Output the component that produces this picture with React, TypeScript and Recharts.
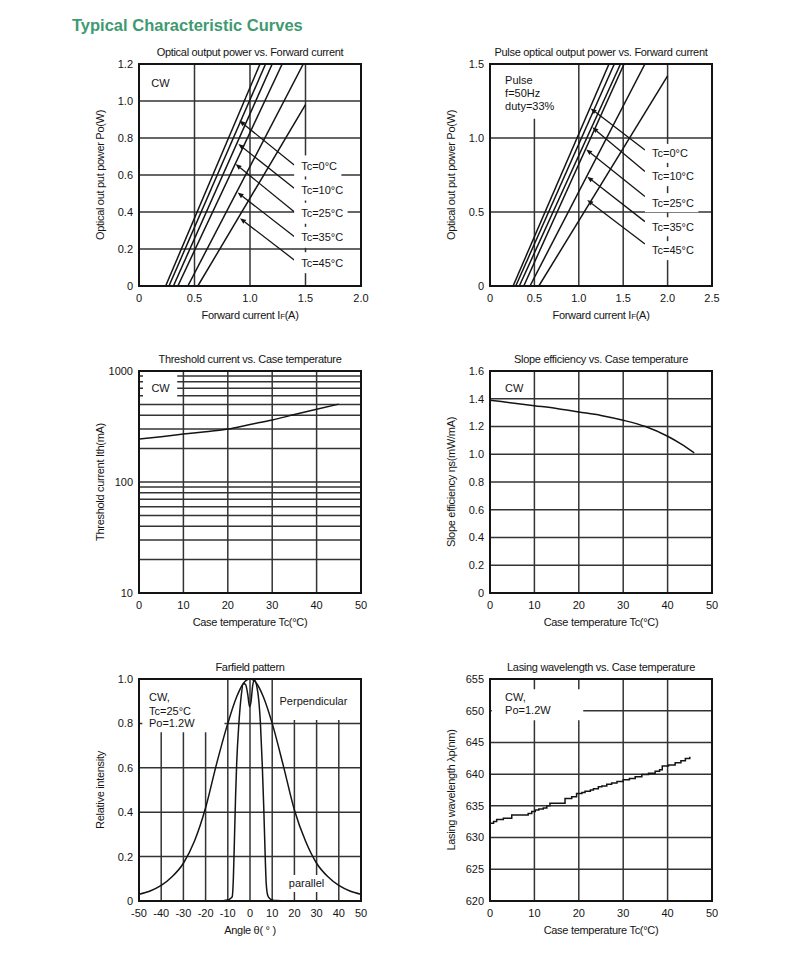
import React from 'react';
import {
  LineChart,
  Line,
  XAxis,
  YAxis,
  CartesianGrid,
  ReferenceLine,
  ReferenceDot,
  ReferenceArea,
} from 'recharts';

// ---------------- DATA ----------------
// Panel 1: CW optical output power vs forward current
const cwCurve1 = [{ x: 0.24, y: 0 }, { x: 1.09, y: 1.2 }];
const cwCurve2 = [{ x: 0.27, y: 0 }, { x: 1.14, y: 1.2 }];
const cwCurve3 = [{ x: 0.31, y: 0 }, { x: 1.2, y: 1.2 }];
const cwCurve4 = [{ x: 0.35, y: 0 }, { x: 1.29, y: 1.2 }];
const cwCurve5 = [{ x: 0.44, y: 0 }, { x: 1.48, y: 1.2 }];
const cwCurve6 = [{ x: 0.53, y: 0 }, { x: 1.5, y: 0.98 }];
const cwLabels = ['Tc=0°C', 'Tc=10°C', 'Tc=25°C', 'Tc=35°C', 'Tc=45°C'];
const cwLabelY = [0.649, 0.519, 0.393, 0.263, 0.126];
const cwPointerFrom = [
  { x: 1.398, y: 0.654 },
  { x: 1.398, y: 0.528 },
  { x: 1.398, y: 0.402 },
  { x: 1.398, y: 0.267 },
  { x: 1.398, y: 0.141 },
];
const cwPointerTo = [
  { x: 0.904, y: 0.894 },
  { x: 0.895, y: 0.768 },
  { x: 0.87, y: 0.659 },
  { x: 0.889, y: 0.505 },
  { x: 0.91, y: 0.366 },
];
const p1XTicks = [0, 0.5, 1.0, 1.5, 2.0];
const p1YTicks = [0, 0.2, 0.4, 0.6, 0.8, 1.0, 1.2];

// Panel 2: Pulse optical output power vs forward current
const pulseCurve1 = [{ x: 0.26, y: 0 }, { x: 1.34, y: 1.5 }];
const pulseCurve2 = [{ x: 0.29, y: 0 }, { x: 1.4, y: 1.5 }];
const pulseCurve3 = [{ x: 0.33, y: 0 }, { x: 1.47, y: 1.5 }];
const pulseCurve4 = [{ x: 0.38, y: 0 }, { x: 1.51, y: 1.5 }];
const pulseCurve5 = [{ x: 0.45, y: 0 }, { x: 1.745, y: 1.5 }];
const pulseCurve6 = [{ x: 0.55, y: 0 }, { x: 2.0, y: 1.42 }];
const pulseLabels = ['Tc=0°C', 'Tc=10°C', 'Tc=25°C', 'Tc=35°C', 'Tc=45°C'];
const pulseLabelY = [0.896, 0.739, 0.563, 0.4, 0.239];
const pulsePointerFrom = [
  { x: 1.745, y: 0.919 },
  { x: 1.745, y: 0.773 },
  { x: 1.745, y: 0.604 },
  { x: 1.745, y: 0.435 },
  { x: 1.745, y: 0.284 },
];
const pulsePointerTo = [
  { x: 1.133, y: 1.2 },
  { x: 1.152, y: 1.072 },
  { x: 1.084, y: 0.923 },
  { x: 1.095, y: 0.739 },
  { x: 1.095, y: 0.581 },
];
const pulseNote = ['Pulse', 'f=50Hz', 'duty=33%'];
const pulseNoteY = [1.392, 1.302, 1.212];
const p2XTicks = [0, 0.5, 1.0, 1.5, 2.0, 2.5];
const p2YTicks = [0, 0.5, 1.0, 1.5];

// Panel 3: Threshold current vs case temperature (log)
const thresholdData = [
  { x: 0, y: 244 },
  { x: 5, y: 256 },
  { x: 10, y: 270 },
  { x: 15, y: 284 },
  { x: 20, y: 300 },
  { x: 25, y: 330 },
  { x: 30, y: 362 },
  { x: 35, y: 405 },
  { x: 40, y: 452 },
  { x: 45, y: 503 },
];
const tempTicks = [0, 10, 20, 30, 40, 50];
const logTicks = [10, 20, 30, 40, 50, 60, 70, 80, 90, 100, 200, 300, 400, 500, 600, 700, 800, 900, 1000];
const logTickLabels = [10, 100, 1000];

// Panel 4: Slope efficiency vs case temperature
const slopeData = [
  { x: 0, y: 1.39 },
  { x: 5, y: 1.37 },
  { x: 10, y: 1.35 },
  { x: 15, y: 1.33 },
  { x: 20, y: 1.305 },
  { x: 25, y: 1.28 },
  { x: 30, y: 1.245 },
  { x: 35, y: 1.2 },
  { x: 40, y: 1.13 },
  { x: 43, y: 1.075 },
  { x: 46, y: 1.01 },
];
const p4YTicks = [0, 0.2, 0.4, 0.6, 0.8, 1.0, 1.2, 1.4, 1.6];

// Panel 5: Far field pattern
const perpendicularData = [
  { x: -50, y: 0.03 }, { x: -45, y: 0.045 }, { x: -40, y: 0.07 }, { x: -35, y: 0.11 },
  { x: -30, y: 0.17 }, { x: -25, y: 0.27 }, { x: -20, y: 0.42 }, { x: -15, y: 0.62 },
  { x: -10, y: 0.8 }, { x: -6, y: 0.92 }, { x: -3, y: 0.98 }, { x: 0, y: 1.0 },
  { x: 3, y: 0.98 }, { x: 6, y: 0.92 }, { x: 10, y: 0.8 }, { x: 15, y: 0.61 },
  { x: 20, y: 0.41 }, { x: 25, y: 0.27 }, { x: 30, y: 0.17 }, { x: 35, y: 0.11 },
  { x: 40, y: 0.07 }, { x: 45, y: 0.045 }, { x: 50, y: 0.03 },
];
const parallelData = [
  { x: -15, y: 0 }, { x: -10, y: 0.005 }, { x: -9, y: 0.01 }, { x: -8, y: 0.02 },
  { x: -7.5, y: 0.1 }, { x: -7, y: 0.28 }, { x: -6.5, y: 0.47 }, { x: -6, y: 0.62 },
  { x: -5, y: 0.8 }, { x: -4, y: 0.92 }, { x: -3, y: 0.98 }, { x: -2, y: 0.975 },
  { x: -1, y: 0.93 }, { x: -0.2, y: 0.875 }, { x: 0.5, y: 0.9 }, { x: 1.2, y: 0.97 },
  { x: 2, y: 0.995 }, { x: 3, y: 0.97 }, { x: 4, y: 0.9 }, { x: 4.7, y: 0.8 },
  { x: 5.5, y: 0.62 }, { x: 6.2, y: 0.42 }, { x: 6.7, y: 0.25 }, { x: 7.3, y: 0.08 },
  { x: 8, y: 0.025 }, { x: 9, y: 0.01 }, { x: 10, y: 0.005 }, { x: 12, y: 0.002 },
  { x: 15, y: 0.001 }, { x: 20, y: 0 },
];
const angleTicks = [-50, -40, -30, -20, -10, 0, 10, 20, 30, 40, 50];
const p5YTicks = [0, 0.2, 0.4, 0.6, 0.8, 1.0];
const farNote = ['CW,', 'Tc=25°C', 'Po=1.2W'];
const farNoteY = [0.916, 0.856, 0.8];

// Panel 6: Lasing wavelength vs case temperature
const wavelengthData = [
  { x: 0, y: 632.25 }, { x: 0.8, y: 632.55 }, { x: 1.5, y: 632.85 }, { x: 3.0, y: 633.05 },
  { x: 4.9, y: 633.55 }, { x: 8.6, y: 633.8 }, { x: 9.4, y: 634.1 }, { x: 10.2, y: 634.35 },
  { x: 11, y: 634.5 }, { x: 12, y: 634.65 }, { x: 12.8, y: 635.0 }, { x: 13.5, y: 635.4 },
  { x: 16.9, y: 636.15 }, { x: 18.4, y: 636.45 }, { x: 19.5, y: 636.95 }, { x: 20.7, y: 637.1 },
  { x: 21.4, y: 637.3 }, { x: 22.6, y: 637.5 }, { x: 23.3, y: 637.7 }, { x: 24.4, y: 638.0 },
  { x: 25.2, y: 638.15 }, { x: 26.3, y: 638.4 }, { x: 27.4, y: 638.6 }, { x: 28.6, y: 638.85 },
  { x: 30.0, y: 639.1 }, { x: 31.4, y: 639.3 }, { x: 32.7, y: 639.6 }, { x: 34.2, y: 639.95 },
  { x: 35.7, y: 640.15 }, { x: 37.2, y: 640.45 }, { x: 38.2, y: 640.7 }, { x: 38.8, y: 641.3 },
  { x: 40.2, y: 641.45 }, { x: 41.7, y: 641.8 }, { x: 43.0, y: 642.1 }, { x: 44.0, y: 642.45 },
  { x: 45, y: 642.75 },
];
const p6YTicks = [620, 625, 630, 635, 640, 645, 650, 655];
const wlNote = ['CW,', 'Po=1.2W'];
const wlNoteY = [652.2, 650.1];

// ---------------- STYLE / LAYOUT ----------------
const FONT = '"Liberation Sans", Arial, Helvetica, sans-serif';
const INK = '#141414';
const GRID_COLOR = '#333333';
const PLOT_W = 222;
const PLOT_H = 222;
const Y_AXIS_W = 45;
const X_AXIS_H = 25;
const M_TOP = 5;
const M_RIGHT = 10;
const TICK_STYLE = { fontSize: 11, fill: INK, fontFamily: FONT };

const fmt1 = (v: number) => (v === 0 ? '0' : v.toFixed(1));
const fmtInt = (v: number) => String(v);
const fmtLog = (v: number) => (logTickLabels.includes(v) ? String(v) : '');

const textShape = (text: string) => (p: any) => (
  <text x={p.cx} y={p.cy} dy="0.35em" textAnchor="start" fontSize={11} fontFamily={FONT} fill={INK}>
    {text}
  </text>
);

const boxLabelShape = (text: string, boxH: number) => (p: any) => {
  const w = 7 + text.length * 6.2 + 3;
  return (
    <g>
      <rect x={p.cx} y={p.cy - boxH / 2} width={w} height={boxH} fill="#ffffff" />
      <text x={p.cx + 7} y={p.cy} dy="0.35em" textAnchor="start" fontSize={11} fontFamily={FONT} fill={INK}>
        {text}
      </text>
    </g>
  );
};

const arrowShape = (p: any) => {
  const { x1, y1, x2, y2 } = p;
  if ([x1, y1, x2, y2].some((v) => typeof v !== 'number' || isNaN(v))) return <g />;
  const ang = Math.atan2(y2 - y1, x2 - x1);
  const L = 6;
  const W = 2.4;
  const bx = x2 - L * Math.cos(ang);
  const by = y2 - L * Math.sin(ang);
  const px = -Math.sin(ang) * W;
  const py = Math.cos(ang) * W;
  return (
    <g>
      <line x1={x1} y1={y1} x2={bx} y2={by} stroke={INK} strokeWidth={1.3} />
      <polygon points={`${x2},${y2} ${bx + px},${by + py} ${bx - px},${by - py}`} fill={INK} />
    </g>
  );
};

const curveLine = (data: any[], key: string, type: any = 'linear') => (
  <Line
    key={key}
    data={data}
    dataKey="y"
    type={type}
    stroke={INK}
    strokeWidth={1.5}
    dot={false}
    activeDot={false}
    isAnimationActive={false}
  />
);

const whiteBox = (key: string, x1: number, x2: number, y1: number, y2: number) => (
  <ReferenceArea key={key} x1={x1} x2={x2} y1={y1} y2={y2} fill="#ffffff" fillOpacity={1} stroke="none" />
);

const note = (key: string, x: number, y: number, text: string) => (
  <ReferenceDot key={key} x={x} y={y} r={1} shape={textShape(text)} />
);

const pointerSet = (prefix: string, from: any[], to: any[], labels: string[], labelY: number[], boxH: number) => {
  const out: any[] = [];
  labels.forEach((lab, i) => {
    out.push(
      <ReferenceDot key={`${prefix}-lab-${i}`} x={from[i].x} y={labelY[i]} r={1} shape={boxLabelShape(lab, boxH)} />
    );
    out.push(
      <ReferenceLine
        key={`${prefix}-ptr-${i}`}
        segment={[
          { x: from[i].x, y: from[i].y },
          { x: to[i].x, y: to[i].y },
        ]}
        stroke={INK}
        shape={arrowShape}
      />
    );
  });
  return out;
};

type PanelProps = {
  plotLeft: number;
  plotTop: number;
  title: React.ReactNode;
  xLabel: React.ReactNode;
  yLabel: React.ReactNode;
  xDomain: number[];
  yDomain: number[];
  xTicks: number[];
  yTicks: number[];
  xFmt: (v: number) => string;
  yFmt: (v: number) => string;
  yScale?: any;
  content: any[];
};

function Panel(props: PanelProps) {
  const { plotLeft, plotTop, title, xLabel, yLabel, xDomain, yDomain, xTicks, yTicks, xFmt, yFmt, yScale, content } =
    props;
  const textStyle: React.CSSProperties = {
    position: 'absolute',
    fontFamily: FONT,
    fontSize: 11,
    color: INK,
    lineHeight: '14px',
    whiteSpace: 'nowrap',
    letterSpacing: '-0.3px',
  };
  return (
    <>
      <div style={{ ...textStyle, left: plotLeft, top: plotTop - 19, width: PLOT_W, textAlign: 'center' }}>{title}</div>
      <div style={{ ...textStyle, left: plotLeft, top: plotTop + PLOT_H + 22, width: PLOT_W, textAlign: 'center' }}>
        {xLabel}
      </div>
      <div
        style={{
          ...textStyle,
          left: plotLeft - 39,
          top: plotTop + PLOT_H / 2,
          transform: 'translate(-50%, -50%) rotate(-90deg)',
        }}
      >
        {yLabel}
      </div>
      <div style={{ position: 'absolute', left: plotLeft - Y_AXIS_W, top: plotTop - M_TOP }}>
        <LineChart
          width={Y_AXIS_W + PLOT_W + M_RIGHT}
          height={M_TOP + PLOT_H + X_AXIS_H}
          margin={{ top: M_TOP, right: M_RIGHT, bottom: 0, left: 0 }}
        >
          <CartesianGrid stroke={GRID_COLOR} strokeWidth={1.5} />
          <XAxis
            type="number"
            dataKey="x"
            domain={xDomain}
            ticks={xTicks}
            tickFormatter={xFmt}
            interval={0}
            height={X_AXIS_H}
            tick={TICK_STYLE}
            tickLine={false}
            axisLine={false}
            allowDataOverflow
          />
          <YAxis
            type="number"
            dataKey="y"
            scale={yScale || 'auto'}
            domain={yDomain}
            ticks={yTicks}
            tickFormatter={yFmt}
            interval={0}
            width={Y_AXIS_W}
            tick={TICK_STYLE}
            tickLine={false}
            axisLine={false}
            tickMargin={0}
            allowDataOverflow
          />
          {content}
          <ReferenceArea
            x1={xDomain[0]}
            x2={xDomain[1]}
            y1={yDomain[0]}
            y2={yDomain[1]}
            fill="none"
            fillOpacity={0}
            stroke={INK}
            strokeWidth={2}
          />
        </LineChart>
      </div>
    </>
  );
}

const LEFT_COL = 139;
const RIGHT_COL = 490;
const ROW1 = 64;
const ROW2 = 371;
const ROW3 = 679;

export default function App() {
  const p1Content = [
    note('p1-cw', 0.11, 1.099, 'CW'),
    curveLine(cwCurve1, 'cw1'),
    curveLine(cwCurve2, 'cw2'),
    curveLine(cwCurve3, 'cw3'),
    curveLine(cwCurve4, 'cw4'),
    curveLine(cwCurve5, 'cw5'),
    curveLine(cwCurve6, 'cw6'),
    ...pointerSet('p1', cwPointerFrom, cwPointerTo, cwLabels, cwLabelY, 21),
  ];
  const p2Content = [
    whiteBox('p2-box', 0.1, 0.8, 1.13, 1.495),
    ...pulseNote.map((t, i) => note(`p2-n${i}`, 0.17, pulseNoteY[i], t)),
    curveLine(pulseCurve1, 'pl1'),
    curveLine(pulseCurve2, 'pl2'),
    curveLine(pulseCurve3, 'pl3'),
    curveLine(pulseCurve4, 'pl4'),
    curveLine(pulseCurve5, 'pl5'),
    curveLine(pulseCurve6, 'pl6'),
    ...pointerSet('p2', pulsePointerFrom, pulsePointerTo, pulseLabels, pulseLabelY, 19),
  ];
  const p3Content = [
    whiteBox('p3-box', 0.9, 8.6, 560, 960),
    note('p3-cw', 2.8, 695, 'CW'),
    curveLine(thresholdData, 'th', 'monotone'),
  ];
  const p4Content = [note('p4-cw', 3.4, 1.473, 'CW'), curveLine(slopeData, 'se', 'monotone')];
  const p5Content = [
    whiteBox('p5-boxl', -48.5, -11.5, 0.76, 0.995),
    whiteBox('p5-boxr', 12, 48, 0.815, 0.995),
    whiteBox('p5-boxp', 16.5, 34, 0.04, 0.117),
    ...farNote.map((t, i) => note(`p5-n${i}`, -45.5, farNoteY[i], t)),
    note('p5-perp', 13.3, 0.9, 'Perpendicular'),
    note('p5-par', 17.5, 0.08, 'parallel'),
    curveLine(perpendicularData, 'perp', 'monotone'),
    curveLine(parallelData, 'par', 'monotone'),
  ];
  const p6Content = [
    whiteBox('p6-box', 0.4, 21, 648.5, 653.4),
    ...wlNote.map((t, i) => note(`p6-n${i}`, 3.4, wlNoteY[i], t)),
    curveLine(wavelengthData, 'wl', 'stepAfter'),
  ];

  return (
    <div
      style={{
        position: 'absolute',
        left: 0,
        top: 0,
        width: 800,
        height: 953,
        background: '#ffffff',
        overflow: 'hidden',
      }}
    >
      <div
        style={{
          position: 'absolute',
          left: 72,
          top: 16,
          fontFamily: FONT,
          fontWeight: 700,
          fontSize: 16.5,
          color: '#3f9a72',
          whiteSpace: 'nowrap',
          lineHeight: 'normal',
        }}
      >
        Typical Characteristic Curves
      </div>

      <Panel
        plotLeft={LEFT_COL}
        plotTop={ROW1}
        title="Optical output power vs. Forward current"
        xLabel={<>Forward current I<span style={{ fontSize: 8 }}>F</span>(A)</>}
        yLabel="Optical out put power Po(W)"
        xDomain={[0, 2]}
        yDomain={[0, 1.2]}
        xTicks={p1XTicks}
        yTicks={p1YTicks}
        xFmt={fmt1}
        yFmt={fmt1}
        content={p1Content}
      />
      <Panel
        plotLeft={RIGHT_COL}
        plotTop={ROW1}
        title="Pulse optical output power vs. Forward current"
        xLabel={<>Forward current I<span style={{ fontSize: 8 }}>F</span>(A)</>}
        yLabel="Optical out put power Po(W)"
        xDomain={[0, 2.5]}
        yDomain={[0, 1.5]}
        xTicks={p2XTicks}
        yTicks={p2YTicks}
        xFmt={fmt1}
        yFmt={fmt1}
        content={p2Content}
      />
      <Panel
        plotLeft={LEFT_COL}
        plotTop={ROW2}
        title="Threshold current vs. Case temperature"
        xLabel="Case temperature Tc(°C)"
        yLabel="Threshold current Ith(mA)"
        xDomain={[0, 50]}
        yDomain={[10, 1000]}
        xTicks={tempTicks}
        yTicks={logTicks}
        xFmt={fmtInt}
        yFmt={fmtLog}
        yScale="log"
        content={p3Content}
      />
      <Panel
        plotLeft={RIGHT_COL}
        plotTop={ROW2}
        title="Slope efficiency vs. Case temperature"
        xLabel="Case temperature Tc(°C)"
        yLabel="Slope efficiency ηs(mW/mA)"
        xDomain={[0, 50]}
        yDomain={[0, 1.6]}
        xTicks={tempTicks}
        yTicks={p4YTicks}
        xFmt={fmtInt}
        yFmt={fmt1}
        content={p4Content}
      />
      <Panel
        plotLeft={LEFT_COL}
        plotTop={ROW3}
        title="Farfield pattern"
        xLabel="Angle θ( ° )"
        yLabel="Relative intensity"
        xDomain={[-50, 50]}
        yDomain={[0, 1]}
        xTicks={angleTicks}
        yTicks={p5YTicks}
        xFmt={fmtInt}
        yFmt={fmt1}
        content={p5Content}
      />
      <Panel
        plotLeft={RIGHT_COL}
        plotTop={ROW3}
        title="Lasing wavelength vs. Case temperature"
        xLabel="Case temperature Tc(°C)"
        yLabel="Lasing wavelength λp(nm)"
        xDomain={[0, 50]}
        yDomain={[620, 655]}
        xTicks={tempTicks}
        yTicks={p6YTicks}
        xFmt={fmtInt}
        yFmt={fmtInt}
        content={p6Content}
      />
    </div>
  );
}
